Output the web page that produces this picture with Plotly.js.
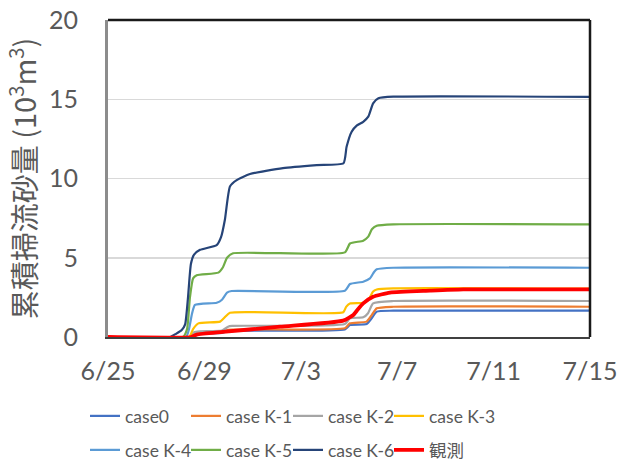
<!DOCTYPE html>
<html>
<head>
<meta charset="utf-8">
<script src="https://cdn.plot.ly/plotly-3.0.1.min.js"></script>
<style>
  html, body { margin: 0; padding: 0; background: #fff; }
  #chart { width: 617px; height: 461px; }
</style>
</head>
<body>
<div id="chart"></div>
<script>
// Days elapsed since 6/25 and the cumulative bedload volume (10^3 m^3) for each run.
const tickDays = [0, 4, 8, 12, 16, 20];
const tickLabels = ['6/25', '6/29', '7/3', '7/7', '7/11', '7/15'];

const case0Days = [0, 3.4, 3.57, 4.73, 4.98, 9.83, 10.04, 10.73, 10.95, 11.15, 11.84, 20];
const case0Vals = [0, 0, 0.2, 0.25, 0.38, 0.48, 0.76, 0.82, 1.2, 1.6, 1.66, 1.66];

const caseK1Days = [0, 3.4, 3.57, 4.73, 4.98, 9.83, 10.04, 10.73, 10.95, 11.15, 11.84, 20];
const caseK1Vals = [0, 0, 0.25, 0.3, 0.45, 0.55, 0.86, 0.97, 1.4, 1.81, 1.91, 1.91];

const caseK2Days = [0, 3.4, 3.57, 3.82, 4.73, 4.98, 5.15, 9.83, 10.04, 10.59, 10.79, 11.0, 11.84, 20];
const caseK2Vals = [0, 0, 0.3, 0.36, 0.4, 0.65, 0.7, 0.82, 1.18, 1.24, 1.5, 2.12, 2.27, 2.27];

const caseK3Days = [0, 3.36, 3.53, 3.75, 4.65, 4.85, 5.06, 9.76, 9.88, 10.04, 10.59, 10.83, 10.99, 11.15, 11.84, 20];
const caseK3Vals = [0, 0, 0.5, 0.86, 0.97, 1.25, 1.53, 1.56, 1.9, 2.12, 2.16, 2.4, 2.85, 3.0, 3.07, 3.05];

const caseK4Days = [0, 3.24, 3.36, 3.49, 3.61, 4.51, 4.73, 4.94, 5.13, 9.83, 10.04, 10.59, 10.87, 11.04, 11.15, 11.84, 20];
const caseK4Vals = [0, 0, 0.5, 1.5, 2.02, 2.16, 2.35, 2.8, 2.9, 2.92, 3.34, 3.49, 3.7, 4.1, 4.27, 4.37, 4.37];

const caseK5Days = [0, 3.11, 3.28, 3.4, 3.53, 3.68, 4.58, 4.77, 4.94, 5.19, 9.83, 10.04, 10.59, 10.8, 10.95, 11.15, 11.84, 20];
const caseK5Vals = [0, 0, 0.5, 2.5, 3.7, 3.9, 4.06, 4.4, 5.0, 5.28, 5.34, 5.9, 6.08, 6.33, 6.8, 7.02, 7.11, 7.11];

const caseK6Days = [0, 2.57, 2.82, 3.06, 3.2, 3.32, 3.44, 3.57, 3.82, 4.51, 4.69, 4.85, 5.06, 5.34, 5.89, 7.26, 8.66, 9.77, 9.9, 10.11, 10.33, 10.59, 10.8, 11.0, 11.22, 11.84, 20];
const caseK6Vals = [0, 0, 0.2, 0.44, 0.8, 2.5, 4.6, 5.2, 5.5, 5.8, 6.3, 7.4, 9.5, 9.9, 10.28, 10.66, 10.85, 10.96, 12.0, 12.95, 13.35, 13.58, 13.9, 14.74, 15.06, 15.16, 15.15];

const observedDays = [0, 3.44, 3.68, 4.77, 7.14, 9.76, 10.18, 10.37, 10.59, 11.0, 11.7, 13.36, 14.74, 20];
const observedVals = [0, 0, 0.15, 0.32, 0.65, 1.03, 1.39, 1.75, 2.12, 2.54, 2.8, 2.92, 3.0, 3.0];

const seriesNames = ['case0', 'case K-1', 'case K-2', 'case K-3', 'case K-4', 'case K-5', 'case K-6', '観測'];
const seriesDays = [case0Days, caseK1Days, caseK2Days, caseK3Days, caseK4Days, caseK5Days, caseK6Days, observedDays];
const seriesVals = [case0Vals, caseK1Vals, caseK2Vals, caseK3Vals, caseK4Vals, caseK5Vals, caseK6Vals, observedVals];
const seriesColors = ['#4472C4', '#ED7D31', '#A5A5A5', '#FFC000', '#5B9BD5', '#70AD47', '#264478', '#FF0000'];
const seriesWidths = [2.2, 2.2, 2.2, 2.2, 2.2, 2.2, 2.2, 3.8];

const latin = 'Lato, "Noto Sans CJK JP", sans-serif';
const cjk = '"Noto Sans CJK JP", Lato, sans-serif';
const textGrey = '#595959';

// Legend entries sit in a 4-column, 2-row grid below the plot (pixel positions of each cell).
const legendColumnsPx = [85, 186, 288, 389];
const legendRowsPx = [416, 450];
const legendKey = i => (i === 0 ? 'legend' : 'legend' + (i + 1));

const traces = seriesNames.map((name, i) => ({
  type: 'scatter',
  mode: 'lines',
  name: name,
  x: seriesDays[i],
  y: seriesVals[i],
  line: { color: seriesColors[i], width: seriesWidths[i], shape: 'spline', smoothing: 0.5 },
  legend: legendKey(i),
  hoverinfo: 'skip'
}));

const layout = {
  width: 617, height: 461,
  margin: { l: 108, r: 27, t: 20, b: 124 },
  paper_bgcolor: '#ffffff',
  plot_bgcolor: '#ffffff',
  showlegend: true,
  xaxis: {
    range: [0, 20],
    tickmode: 'array', tickvals: tickDays, ticktext: tickLabels,
    showgrid: false, zeroline: false,
    showline: true, linecolor: '#404040', linewidth: 2,
    ticks: '', ticklabelstandoff: 11, ticklabeloverflow: 'allow',
    tickfont: { family: latin, size: 25, color: textGrey }
  },
  yaxis: {
    range: [0, 20],
    tickvals: [0, 5, 10, 15, 20],
    showgrid: true, gridcolor: '#D9D9D9', gridwidth: 1.5,
    zeroline: false,
    showline: true, linecolor: '#8C8C8C', linewidth: 3,
    ticks: '', ticklabelstandoff: 22, ticklabeloverflow: 'allow',
    tickfont: { family: latin, size: 25, color: textGrey },
    title: {
      text: '累積掃流砂量 (10<sup>3</sup>m<sup>3</sup>)',
      font: { family: cjk, size: 29, color: textGrey },
      standoff: 5
    }
  },
  shapes: [
    // frame across the top and down the right side of the plot area
    { type: 'line', xref: 'paper', yref: 'paper', x0: 0, x1: 1, y0: 1, y1: 1, line: { color: '#1a1a1a', width: 2.5 } },
    { type: 'line', xref: 'paper', yref: 'paper', x0: 1, x1: 1, y0: 0, y1: 1, line: { color: '#1a1a1a', width: 2.5 } }
  ]
};

seriesNames.forEach((name, i) => {
  layout[legendKey(i)] = {
    orientation: 'h',
    xref: 'container', yref: 'container',
    xanchor: 'left', yanchor: 'middle',
    x: legendColumnsPx[i % 4] / 617,
    y: 1 - legendRowsPx[Math.floor(i / 4)] / 461,
    font: { family: latin, size: 17.5, color: textGrey },
    itemwidth: 30,
    bgcolor: 'rgba(0,0,0,0)'
  };
});

Plotly.newPlot('chart', traces, layout, { displayModeBar: false, staticPlot: true });
</script>
</body>
</html>
